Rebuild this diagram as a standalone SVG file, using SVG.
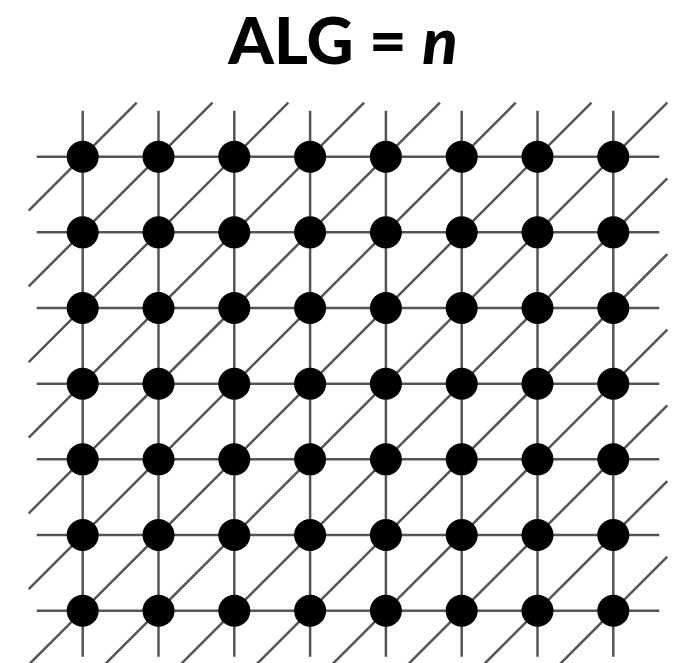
<svg xmlns="http://www.w3.org/2000/svg" width="682" height="663" viewBox="0 0 682 663">
<style>
.t{font-family:"Lato","Liberation Sans",sans-serif;font-weight:900;font-size:65px;fill:#000}
.e line{stroke:#555;stroke-width:2.5}
.n circle{fill:#000}
</style>
<rect width="682" height="663" fill="#fff"/>
<text class="t" x="343" y="63.5" text-anchor="middle">ALG = <tspan font-style="italic">n</tspan></text>
<g id="connectors" class="e">
<line x1="36.7" y1="156.7" x2="659.3" y2="156.7"/>
<line x1="36.7" y1="232.37" x2="659.3" y2="232.37"/>
<line x1="36.7" y1="308.03" x2="659.3" y2="308.03"/>
<line x1="36.7" y1="383.7" x2="659.3" y2="383.7"/>
<line x1="36.7" y1="459.37" x2="659.3" y2="459.37"/>
<line x1="36.7" y1="535.03" x2="659.3" y2="535.03"/>
<line x1="36.7" y1="610.7" x2="659.3" y2="610.7"/>
<line x1="82.7" y1="110.7" x2="82.7" y2="656.7"/>
<line x1="158.5" y1="110.7" x2="158.5" y2="656.7"/>
<line x1="234.3" y1="110.7" x2="234.3" y2="656.7"/>
<line x1="310.1" y1="110.7" x2="310.1" y2="656.7"/>
<line x1="385.9" y1="110.7" x2="385.9" y2="656.7"/>
<line x1="461.7" y1="110.7" x2="461.7" y2="656.7"/>
<line x1="537.5" y1="110.7" x2="537.5" y2="656.7"/>
<line x1="613.3" y1="110.7" x2="613.3" y2="656.7"/>
<line x1="28.7" y1="210.7" x2="136.7" y2="102.7"/>
<line x1="28.7" y1="286.37" x2="212.5" y2="102.7"/>
<line x1="28.7" y1="362.03" x2="288.3" y2="102.7"/>
<line x1="28.7" y1="437.7" x2="364.1" y2="102.7"/>
<line x1="28.7" y1="513.37" x2="439.9" y2="102.7"/>
<line x1="28.7" y1="589.03" x2="515.7" y2="102.7"/>
<line x1="28.7" y1="664.7" x2="591.5" y2="102.7"/>
<line x1="104.5" y1="664.7" x2="667.3" y2="102.7"/>
<line x1="180.3" y1="664.7" x2="667.3" y2="178.37"/>
<line x1="256.1" y1="664.7" x2="667.3" y2="254.03"/>
<line x1="331.9" y1="664.7" x2="667.3" y2="329.7"/>
<line x1="407.7" y1="664.7" x2="667.3" y2="405.37"/>
<line x1="483.5" y1="664.7" x2="667.3" y2="481.03"/>
<line x1="559.3" y1="664.7" x2="667.3" y2="556.7"/>
</g>
<g class="n">
<g id="n0_0"><circle cx="82.7" cy="156.7" r="16"/></g>
<g id="n1_0"><circle cx="158.5" cy="156.7" r="16"/></g>
<g id="n2_0"><circle cx="234.3" cy="156.7" r="16"/></g>
<g id="n3_0"><circle cx="310.1" cy="156.7" r="16"/></g>
<g id="n4_0"><circle cx="385.9" cy="156.7" r="16"/></g>
<g id="n5_0"><circle cx="461.7" cy="156.7" r="16"/></g>
<g id="n6_0"><circle cx="537.5" cy="156.7" r="16"/></g>
<g id="n7_0"><circle cx="613.3" cy="156.7" r="16"/></g>
<g id="n0_1"><circle cx="82.7" cy="232.37" r="16"/></g>
<g id="n1_1"><circle cx="158.5" cy="232.37" r="16"/></g>
<g id="n2_1"><circle cx="234.3" cy="232.37" r="16"/></g>
<g id="n3_1"><circle cx="310.1" cy="232.37" r="16"/></g>
<g id="n4_1"><circle cx="385.9" cy="232.37" r="16"/></g>
<g id="n5_1"><circle cx="461.7" cy="232.37" r="16"/></g>
<g id="n6_1"><circle cx="537.5" cy="232.37" r="16"/></g>
<g id="n7_1"><circle cx="613.3" cy="232.37" r="16"/></g>
<g id="n0_2"><circle cx="82.7" cy="308.03" r="16"/></g>
<g id="n1_2"><circle cx="158.5" cy="308.03" r="16"/></g>
<g id="n2_2"><circle cx="234.3" cy="308.03" r="16"/></g>
<g id="n3_2"><circle cx="310.1" cy="308.03" r="16"/></g>
<g id="n4_2"><circle cx="385.9" cy="308.03" r="16"/></g>
<g id="n5_2"><circle cx="461.7" cy="308.03" r="16"/></g>
<g id="n6_2"><circle cx="537.5" cy="308.03" r="16"/></g>
<g id="n7_2"><circle cx="613.3" cy="308.03" r="16"/></g>
<g id="n0_3"><circle cx="82.7" cy="383.7" r="16"/></g>
<g id="n1_3"><circle cx="158.5" cy="383.7" r="16"/></g>
<g id="n2_3"><circle cx="234.3" cy="383.7" r="16"/></g>
<g id="n3_3"><circle cx="310.1" cy="383.7" r="16"/></g>
<g id="n4_3"><circle cx="385.9" cy="383.7" r="16"/></g>
<g id="n5_3"><circle cx="461.7" cy="383.7" r="16"/></g>
<g id="n6_3"><circle cx="537.5" cy="383.7" r="16"/></g>
<g id="n7_3"><circle cx="613.3" cy="383.7" r="16"/></g>
<g id="n0_4"><circle cx="82.7" cy="459.37" r="16"/></g>
<g id="n1_4"><circle cx="158.5" cy="459.37" r="16"/></g>
<g id="n2_4"><circle cx="234.3" cy="459.37" r="16"/></g>
<g id="n3_4"><circle cx="310.1" cy="459.37" r="16"/></g>
<g id="n4_4"><circle cx="385.9" cy="459.37" r="16"/></g>
<g id="n5_4"><circle cx="461.7" cy="459.37" r="16"/></g>
<g id="n6_4"><circle cx="537.5" cy="459.37" r="16"/></g>
<g id="n7_4"><circle cx="613.3" cy="459.37" r="16"/></g>
<g id="n0_5"><circle cx="82.7" cy="535.03" r="16"/></g>
<g id="n1_5"><circle cx="158.5" cy="535.03" r="16"/></g>
<g id="n2_5"><circle cx="234.3" cy="535.03" r="16"/></g>
<g id="n3_5"><circle cx="310.1" cy="535.03" r="16"/></g>
<g id="n4_5"><circle cx="385.9" cy="535.03" r="16"/></g>
<g id="n5_5"><circle cx="461.7" cy="535.03" r="16"/></g>
<g id="n6_5"><circle cx="537.5" cy="535.03" r="16"/></g>
<g id="n7_5"><circle cx="613.3" cy="535.03" r="16"/></g>
<g id="n0_6"><circle cx="82.7" cy="610.7" r="16"/></g>
<g id="n1_6"><circle cx="158.5" cy="610.7" r="16"/></g>
<g id="n2_6"><circle cx="234.3" cy="610.7" r="16"/></g>
<g id="n3_6"><circle cx="310.1" cy="610.7" r="16"/></g>
<g id="n4_6"><circle cx="385.9" cy="610.7" r="16"/></g>
<g id="n5_6"><circle cx="461.7" cy="610.7" r="16"/></g>
<g id="n6_6"><circle cx="537.5" cy="610.7" r="16"/></g>
<g id="n7_6"><circle cx="613.3" cy="610.7" r="16"/></g>
</g>
</svg>
